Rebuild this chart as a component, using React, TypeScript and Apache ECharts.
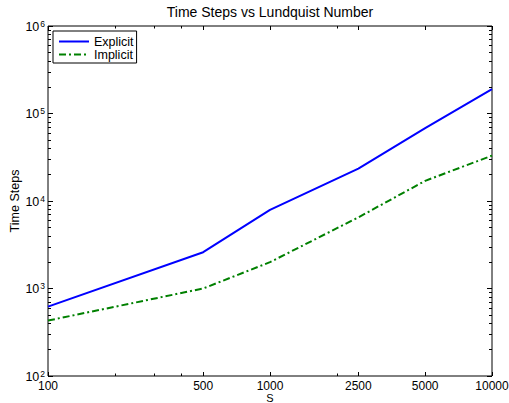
import React, { useEffect, useRef } from "react";
import * as echarts from "echarts";

// ---- data ----
const sValues = [100, 500, 1000, 2500, 5000, 10000];
const explicitSteps = [620, 2600, 7900, 23500, 68000, 190000];
const implicitSteps = [430, 1000, 2000, 6500, 17000, 33000];
const xTickLabels = [100, 500, 1000, 2500, 5000, 10000];
const xMinorTicks = [200, 300, 400, 2000];
const yTickLabels = [100, 1000, 10000, 100000, 1000000];
const yMinorTicks = [
  200, 300, 400, 500, 600, 700, 800, 900,
  2000, 3000, 4000, 5000, 6000, 7000, 8000, 9000,
  20000, 30000, 40000, 50000, 60000, 70000, 80000, 90000,
  200000, 300000, 400000, 500000, 600000, 700000, 800000, 900000,
];

const FONT = "'Liberation Sans', Arial, Helvetica, sans-serif";
const BLACK = "#000";

function makeX(position: "bottom" | "top", ticks: number[], length: number, labels: boolean, extra: any = {}) {
  return {
    type: "log",
    gridIndex: 0,
    min: 100,
    max: 10000,
    position,
    axisLine: { show: false },
    splitLine: { show: false },
    minorTick: { show: false },
    axisTick: { show: true, inside: true, length, customValues: ticks, lineStyle: { color: BLACK, width: 1 } },
    axisLabel: labels
      ? { show: true, customValues: ticks, formatter: (v: number) => String(Math.round(v)), color: BLACK, fontSize: 12, lineHeight: 12, fontFamily: FONT, margin: 4 }
      : { show: false },
    ...extra,
  };
}

function makeY(position: "left" | "right", ticks: number[], length: number, labels: boolean, extra: any = {}) {
  return {
    type: "log",
    gridIndex: 0,
    min: 100,
    max: 1000000,
    position,
    axisLine: { show: false },
    splitLine: { show: false },
    minorTick: { show: false },
    axisTick: { show: true, inside: true, length, customValues: ticks, lineStyle: { color: BLACK, width: 1 } },
    axisLabel: labels
      ? {
          show: true,
          customValues: ticks,
          formatter: (v: number) => `{b|10}{e|${Math.round(Math.log10(v))}}`,
          margin: 3,
          rich: {
            b: { fontSize: 12.5, fontFamily: FONT, color: BLACK, lineHeight: 14, verticalAlign: "bottom" },
            e: { fontSize: 8.5, fontFamily: FONT, color: BLACK, lineHeight: 14, verticalAlign: "top", padding: [0, 0, 0, 1] },
          },
        }
      : { show: false },
    ...extra,
  };
}

export default function App() {
  const ref = useRef<HTMLDivElement>(null);
  useEffect(() => {
    if (!ref.current) return;
    const chart = echarts.init(ref.current, undefined, { renderer: "svg" });
    chart.setOption({
      animation: false,
      backgroundColor: "#fff",
      title: {
        text: "Time Steps vs Lundquist Number",
        left: 270,
        textAlign: "center",
        top: 5,
        padding: 0,
        textStyle: { fontSize: 14, fontWeight: "normal", color: BLACK, fontFamily: FONT },
      },
      legend: {
        data: ["Explicit", "Implicit"],
        orient: "vertical",
        left: 53,
        top: 31,
        padding: [4, 3, 2, 5],
        itemGap: 0,
        itemWidth: 30,
        itemHeight: 8,
        borderColor: BLACK,
        borderWidth: 1,
        borderRadius: 0,
        backgroundColor: "#fff",
        itemStyle: { opacity: 0 },
        textStyle: { fontSize: 12.5, fontFamily: FONT, color: BLACK, lineHeight: 12.6 },
      },
      grid: {
        left: 48,
        right: 17,
        top: 26,
        bottom: 27,
        show: true,
        borderColor: BLACK,
        borderWidth: 1,
        backgroundColor: "#fff",
        containLabel: false,
        outerBoundsMode: "none",
      },
      xAxis: [
        makeX("bottom", xTickLabels, 4, true, {
          name: "S",
          nameLocation: "middle",
          nameGap: 17,
          nameMoveOverlap: false,
          nameTextStyle: { fontSize: 11, lineHeight: 10, fontFamily: FONT, color: BLACK },
        }),
        makeX("bottom", xMinorTicks, 2.5, false),
        makeX("top", xTickLabels, 4, false),
        makeX("top", xMinorTicks, 2.5, false),
      ],
      yAxis: [
        makeY("left", yTickLabels, 5, true, {
          name: "Time Steps",
          nameLocation: "middle",
          nameGap: 27,
          nameRotate: 90,
          nameMoveOverlap: false,
          nameTextStyle: { fontSize: 12.5, fontFamily: FONT, color: BLACK },
        }),
        makeY("left", yMinorTicks, 3, false),
        makeY("right", yTickLabels, 5, false),
        makeY("right", yMinorTicks, 3, false),
      ],
      series: [
        {
          name: "Explicit",
          type: "line",
          xAxisIndex: 0,
          yAxisIndex: 0,
          data: sValues.map((s, i) => [s, explicitSteps[i]]),
          symbol: "none",
          lineStyle: { color: "#0000ff", width: 2 },
          itemStyle: { color: "#0000ff" },
        },
        {
          name: "Implicit",
          type: "line",
          xAxisIndex: 0,
          yAxisIndex: 0,
          data: sValues.map((s, i) => [s, implicitSteps[i]]),
          symbol: "none",
          lineStyle: { color: "#008000", width: 2, type: [7, 3, 2, 3] },
          itemStyle: { color: "#008000" },
        },
      ],
    });
    return () => chart.dispose();
  }, []);
  return <div ref={ref} style={{ position: "fixed", left: 0, top: 0, width: 509, height: 403 }} />;
}
